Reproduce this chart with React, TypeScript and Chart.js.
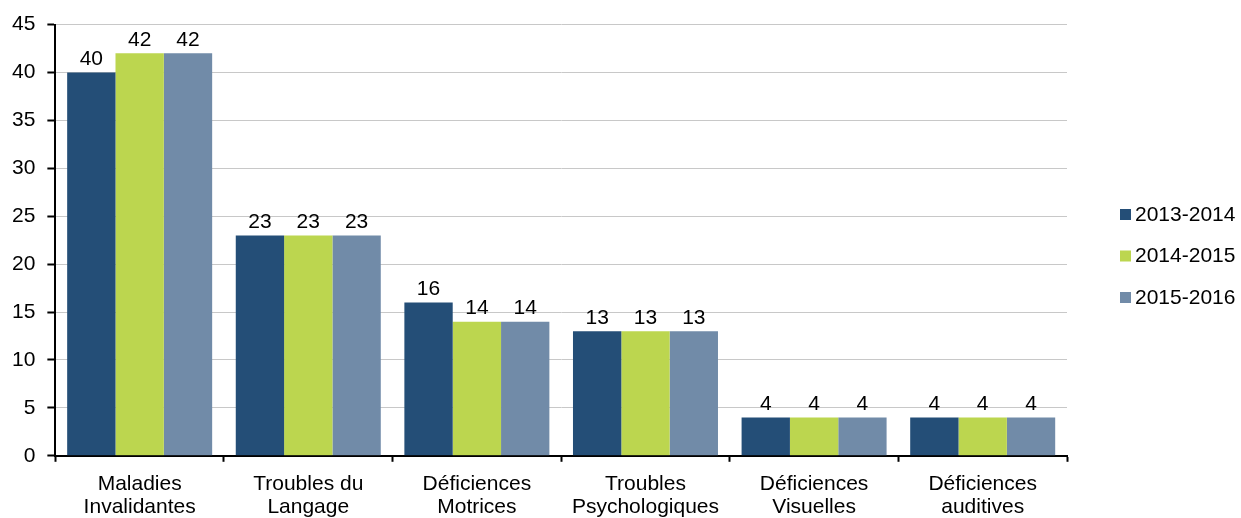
import React, { useEffect, useRef } from "react";
import { Chart, registerables } from "chart.js";

Chart.register(...registerables);

const categories: string[][] = [
  ["Maladies", "Invalidantes"],
  ["Troubles du", "Langage"],
  ["Déficiences", "Motrices"],
  ["Troubles", "Psychologiques"],
  ["Déficiences", "Visuelles"],
  ["Déficiences", "auditives"],
];
const seriesLabels = ["2013-2014", "2014-2015", "2015-2016"];
const values2013 = [40, 23, 16, 13, 4, 4];
const values2014 = [42, 23, 14, 13, 4, 4];
const values2015 = [42, 23, 14, 13, 4, 4];
const yTicks = [0, 5, 10, 15, 20, 25, 30, 35, 40, 45];

const colors = ["#244E77", "#BCD64F", "#718BA8"];
const FONT = "'Liberation Sans', Arial, sans-serif";
const FONT_SIZE = 21;

const valueLabelPlugin = {
  id: "valueLabels",
  afterDatasetsDraw(chart: any) {
    const ctx = chart.ctx;
    ctx.save();
    ctx.font = `${FONT_SIZE}px ${FONT}`;
    ctx.fillStyle = "#000";
    ctx.textAlign = "center";
    ctx.textBaseline = "bottom";
    chart.data.datasets.forEach((ds: any, i: number) => {
      const meta = chart.getDatasetMeta(i);
      meta.data.forEach((bar: any, j: number) => {
        ctx.fillText(String(ds.data[j]), bar.x, bar.y - 3);
      });
    });
    ctx.restore();
  },
};

const legendPlugin = {
  id: "sideLegend",
  afterDraw(chart: any) {
    const ctx = chart.ctx;
    ctx.save();
    ctx.font = `${FONT_SIZE}px ${FONT}`;
    ctx.textAlign = "left";
    ctx.textBaseline = "middle";
    const x = chart.chartArea.right + 53;
    const yStart = 214;
    const step = 41.5;
    chart.data.datasets.forEach((ds: any, i: number) => {
      const y = yStart + i * step;
      ctx.fillStyle = ds.backgroundColor;
      ctx.fillRect(x, y - 5, 11, 11);
      ctx.fillStyle = "#000";
      ctx.fillText(ds.label, x + 15, y + 1);
    });
    ctx.restore();
  },
};

export default function App() {
  const canvasRef = useRef<HTMLCanvasElement | null>(null);

  useEffect(() => {
    if (!canvasRef.current) return;
    const data = [values2013, values2014, values2015];
    const chart = new Chart(canvasRef.current, {
      type: "bar",
      data: {
        labels: categories,
        datasets: seriesLabels.map((label, i) => ({
          label,
          data: data[i],
          backgroundColor: colors[i],
          borderWidth: 0,
          categoryPercentage: 0.86,
          barPercentage: 1,
        })),
      },
      options: {
        animation: false,
        responsive: true,
        maintainAspectRatio: false,
        layout: { padding: { left: 0, right: 174, top: 23, bottom: -12 } },
        plugins: {
          legend: { display: false },
          tooltip: { enabled: false },
        },
        scales: {
          x: {
            grid: {
              display: true,
              drawOnChartArea: false,
              drawTicks: true,
              tickLength: 6,
              tickColor: "#000",
              tickWidth: 2,
              offset: true,
            },
            border: { display: true, color: "#000", width: 2 },
            ticks: {
              color: "#000",
              padding: 11,
              font: { family: FONT, size: FONT_SIZE, lineHeight: 1.1 },
              maxRotation: 0,
              autoSkip: false,
            },
          },
          y: {
            min: 0,
            max: 45,
            afterBuildTicks: (scale: any) => {
              scale.ticks = yTicks.map((v) => ({ value: v }));
            },
            grid: {
              color: "#C8C8C8",
              lineWidth: 1,
              drawTicks: true,
              tickLength: 8,
              tickColor: "#000",
              tickWidth: 2,
            },
            border: { display: true, color: "#000", width: 2 },
            ticks: {
              color: "#000",
              padding: 12,
              font: { family: FONT, size: FONT_SIZE },
            },
          },
        },
      },
      plugins: [valueLabelPlugin, legendPlugin],
    });
    return () => chart.destroy();
  }, []);

  return (
    <div style={{ position: "absolute", left: 0, top: 0, width: 1241, height: 518 }}>
      <canvas ref={canvasRef} />
    </div>
  );
}
